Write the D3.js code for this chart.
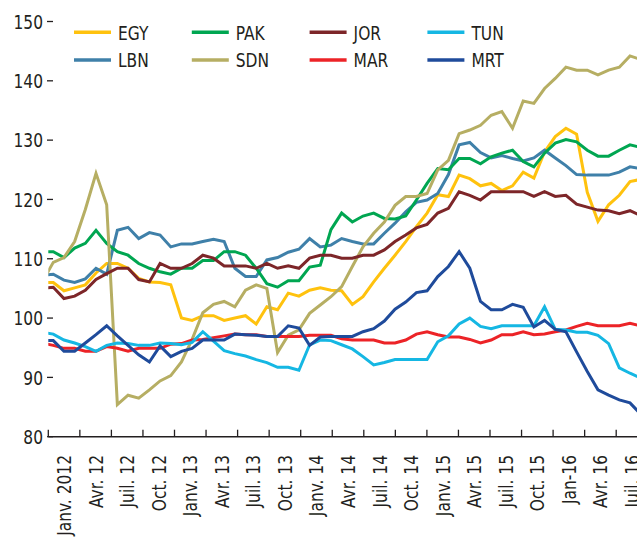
<html>
<head>
<style type="text/css">
	body { margin: 0; background: white; }
	.chart text { fill: #231f20; font-family: "Liberation Sans Narrow", "Arial Narrow", "DejaVu Sans Condensed", "Liberation Sans", sans-serif; font-size: 20px; }
</style>
</head>
<body>
<svg class="chart" width="637" height="539"></svg>
<script src="https://cdnjs.cloudflare.com/ajax/libs/d3/7.8.5/d3.min.js"></script>
<script>
// monthly index values, one value per month (first point sits just left of the axis start)
var egy = [106.0,106.0,104.6,105.1,105.6,107.6,109.2,109.2,108.4,106.7,106.1,106.0,105.6,100.0,99.6,100.4,100.4,99.6,100.0,100.4,99.0,101.9,101.4,104.2,103.7,104.7,105.1,104.7,104.6,102.3,103.6,106.1,108.4,110.6,112.9,115.4,117.7,120.8,120.5,124.1,123.5,122.3,122.7,121.5,122.3,124.6,123.6,128.0,130.6,132.0,131.0,121.2,116.3,119.1,120.7,123.0,123.4];
var lbn = [107.2,107.4,106.4,106.0,106.6,108.4,107.4,114.8,115.3,113.4,114.4,114.0,112.0,112.5,112.5,112.9,113.3,112.9,108.4,107.0,107.0,109.8,110.2,111.1,111.6,113.4,112.0,112.3,113.4,112.9,112.5,112.5,114.3,116.0,117.9,119.5,119.9,121.0,124.2,129.2,129.6,127.9,127.0,127.4,126.9,126.5,127.0,128.3,127.0,125.7,124.2,124.1,124.1,124.1,124.6,125.5,125.2];
var pak = [111.2,111.2,110.2,111.8,112.6,114.8,112.6,111.2,110.6,109.2,108.4,107.8,107.4,108.4,108.4,109.7,109.7,111.2,111.2,110.6,108.4,105.8,105.2,106.3,106.3,108.6,108.9,114.9,117.7,116.2,117.2,117.7,116.8,116.7,117.2,119.9,122.7,125.2,125.0,126.9,126.9,126.0,127.2,127.8,128.3,126.4,125.5,127.8,129.5,130.1,129.7,128.3,127.3,127.3,128.3,129.2,128.8];
var sdn = [106.2,109.4,110.2,112.9,118.3,124.4,119.1,85.4,87.0,86.5,87.9,89.4,90.3,92.6,96.4,100.9,102.3,102.8,101.9,104.7,105.6,105.0,94.2,97.1,98.0,100.8,102.2,103.6,105.3,108.7,112.0,114.3,116.2,119.0,120.5,120.5,121.0,125.0,126.6,131.1,131.7,132.5,134.2,134.8,132.0,136.6,136.2,138.7,140.4,142.3,141.8,141.8,141.0,141.8,142.3,144.2,143.6];
var jor = [105.0,105.2,103.3,103.7,104.7,106.5,107.5,108.4,108.4,106.5,106.1,109.2,108.4,108.4,109.2,110.6,110.1,108.8,108.8,108.8,108.4,109.2,108.4,108.8,108.4,110.1,110.6,110.6,110.1,110.1,110.6,110.6,111.5,112.9,114.0,115.2,115.8,117.7,118.5,121.3,120.7,119.9,121.3,121.3,121.3,121.3,120.5,121.3,120.5,120.7,119.2,118.7,118.2,118.1,117.6,118.1,117.3];
var mar = [95.8,95.4,94.9,94.9,94.4,94.4,95.2,94.9,94.4,94.9,94.9,94.9,95.6,95.7,96.3,96.4,96.7,97.0,97.3,97.2,97.2,96.9,96.9,96.9,96.9,97.1,97.1,97.1,96.5,96.3,96.3,96.3,95.8,95.8,96.3,97.3,97.7,97.2,96.8,96.8,96.4,95.8,96.3,97.2,97.2,97.7,97.2,97.3,97.7,98.0,98.6,99.1,98.7,98.7,98.7,99.1,98.7];
var tun = [97.6,97.3,96.3,95.8,95.2,94.4,95.4,95.8,95.7,95.4,95.4,95.8,95.7,95.5,95.9,97.7,96.1,94.5,94.0,93.6,93.0,92.5,91.7,91.7,91.2,95.5,96.3,96.2,95.5,94.8,93.5,92.1,92.5,93.0,93.0,93.0,93.0,96.0,97.0,99.0,100.0,98.6,98.2,98.7,98.7,98.7,98.7,101.9,98.1,98.0,97.6,97.6,97.1,95.7,91.6,90.7,89.9];
var mrt = [96.2,96.2,94.4,94.4,95.8,97.2,98.7,97.0,95.4,93.8,92.6,95.3,93.5,94.4,94.9,96.3,96.3,96.3,97.3,97.2,97.1,96.9,96.9,98.7,98.3,95.4,96.8,96.9,96.9,96.9,97.7,98.2,99.5,101.5,102.7,104.3,104.6,107.0,108.7,111.2,108.4,102.8,101.4,101.4,102.3,101.8,98.5,99.6,98.1,97.7,94.3,91.0,87.9,87.0,86.2,85.7,83.8];

// series names, in drawing order
var names = ["EGY", "LBN", "PAK", "SDN", "JOR", "MAR", "TUN", "MRT"];
var values = [egy, lbn, pak, sdn, jor, mar, tun, mrt];
var colors = ["#ffc20e", "#3f80a9", "#00a651", "#b6ae63", "#7d2629", "#ec2327", "#15b7e3", "#1f4b9b"];

// legend, row by row
var legendNames = ["EGY", "PAK", "JOR", "TUN", "LBN", "SDN", "MAR", "MRT"];

// axis labels
var quarterLabels = ["Janv. 2012","Avr. 12","Juil. 12","Oct. 12","Janv. 13","Avr. 13","Juil. 13","Oct. 13","Janv. 14","Avr. 14","Juil. 14","Oct. 14","Janv. 15","Avr. 15","Juil. 15","Oct. 15","Jan-16","Avr. 16","Juil. 16"];
var yTicks = [80, 90, 100, 110, 120, 130, 140, 150];

// narrow the installed font a bit to look like the condensed original
var squeeze = " scale(0.86,1)";

var svg = d3.select("svg");

//Define Scales
var yScale = d3.scaleLinear()
	.domain([80, 150])
	.range([436.7, 21.5]);

var xData = d3.scaleLinear()
	.domain([0, egy.length - 1])
	.range([42.6, 42.6 + 10.68 * (egy.length - 1)]);

var xQuarter = d3.scaleBand()
	.domain(quarterLabels)
	.range([48.3, 48.3 + 31.55 * quarterLabels.length])
	.padding(0);

var colorScale = d3.scaleOrdinal()
	.domain(names)
	.range(colors);

//Clip the lines to the plot area
svg.append("defs")
	.append("clipPath")
	.attr("id", "plotclip")
	.append("rect")
	.attr("x", 48.3)
	.attr("y", 0)
	.attr("width", 700)
	.attr("height", 436.7);

//Y axis labels and small ticks (no axis line)
var yAxis = svg.append("g");
yAxis.selectAll("line")
	.data(yTicks)
	.enter()
	.append("line")
	.attr("x1", 47)
	.attr("x2", 53)
	.attr("y1", function(d) { return yScale(d); })
	.attr("y2", function(d) { return yScale(d); })
	.style("stroke", "#231f20")
	.style("stroke-width", 1.3);
yAxis.selectAll("text")
	.data(yTicks)
	.enter()
	.append("text")
	.attr("transform", function(d) { return "translate(43," + yScale(d) + ")" + squeeze; })
	.attr("dy", "0.36em")
	.style("text-anchor", "end")
	.text(function(d) { return d; });

//Lines
var line = d3.line()
	.x(function(d, i) { return xData(i); })
	.y(function(d) { return yScale(d); });

svg.append("g")
	.attr("clip-path", "url(#plotclip)")
	.selectAll("path")
	.data(values)
	.enter()
	.append("path")
	.attr("d", function(d) { return line(d); })
	.style("fill", "none")
	.style("stroke", function(d, i) { return colorScale(names[i]); })
	.style("stroke-width", 3)
	.style("stroke-linejoin", "miter");

//X axis
var xAxis = svg.append("g");
xAxis.append("line")
	.attr("x1", xQuarter.range()[0])
	.attr("x2", 637)
	.attr("y1", yScale(80))
	.attr("y2", yScale(80))
	.style("stroke", "#231f20")
	.style("stroke-width", 1.5);
xAxis.selectAll(".tick")
	.data(quarterLabels)
	.enter()
	.append("line")
	.attr("class", "tick")
	.attr("x1", function(d) { return xQuarter(d); })
	.attr("x2", function(d) { return xQuarter(d); })
	.attr("y1", yScale(80) - 7)
	.attr("y2", yScale(80))
	.style("stroke", "#231f20")
	.style("stroke-width", 1.3);
xAxis.selectAll("text")
	.data(quarterLabels)
	.enter()
	.append("text")
	.attr("transform", function(d) { return "translate(" + (xQuarter(d) + xQuarter.bandwidth() / 2) + ",455) rotate(-90)" + squeeze; })
	.attr("dy", "0.35em")
	.style("text-anchor", "end")
	.text(function(d) { return d; });

//Legend
var legend = svg.append("g")
	.selectAll("g")
	.data(legendNames)
	.enter()
	.append("g")
	.attr("transform", function(d, i) { return "translate(" + (74 + (i % 4) * 117.8) + "," + (32.3 + Math.floor(i / 4) * 27.7) + ")"; });
legend.append("line")
	.attr("x1", 0)
	.attr("x2", 37)
	.style("stroke", function(d) { return colorScale(d); })
	.style("stroke-width", 3.5);
legend.append("text")
	.attr("transform", "translate(44,0)" + squeeze)
	.attr("dy", "0.36em")
	.text(function(d) { return d; });
</script>
</body>
</html>
